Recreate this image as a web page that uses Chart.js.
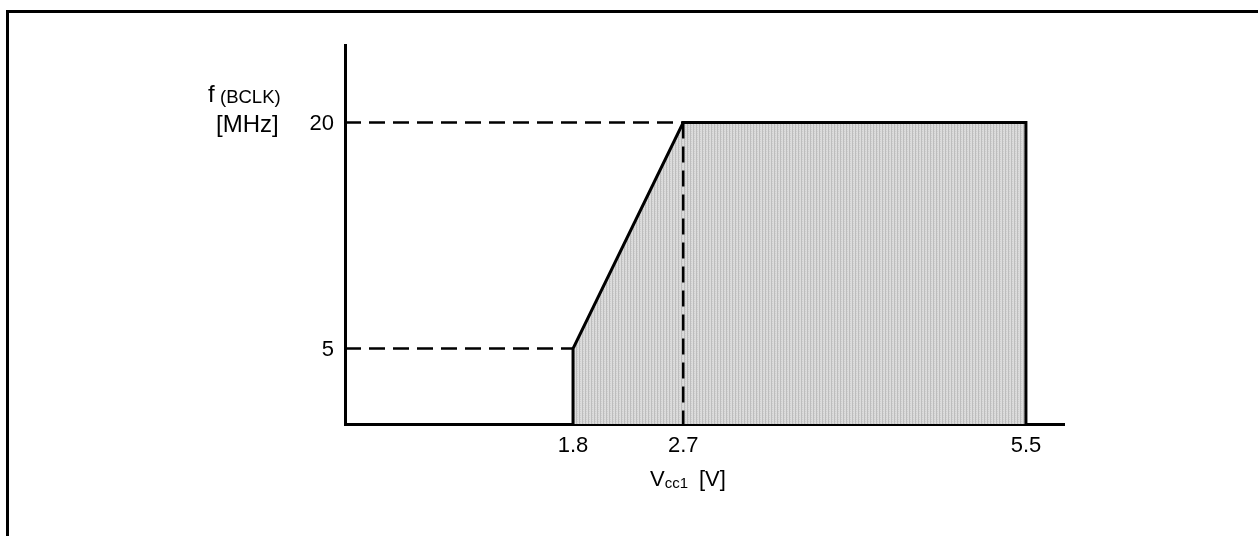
<!DOCTYPE html>
<html>
<head>
<meta charset="utf-8">
<script src="https://cdn.jsdelivr.net/npm/chart.js"></script>
<style>
html,body{margin:0;padding:0;background:#fff;}
#wrap{position:relative;width:1258px;height:536px;overflow:hidden;}
#c{position:absolute;left:0;top:0;}
svg{position:absolute;left:0;top:0;pointer-events:none;}
</style>
</head>
<body>
<div id="wrap">
<canvas id="c" width="1258" height="536"></canvas>
<svg width="1258" height="536" font-family="'Liberation Sans', Arial, sans-serif" fill="#000">
  <path d="M7.5 536 V11.5 H1258" fill="none" stroke="#000" stroke-width="3"/>
  <text x="208" y="102" font-size="24">f</text>
  <text x="220" y="103" font-size="18.5">(BCLK)</text>
  <text x="216" y="132" font-size="24">[MHz]</text>
  <text y="486" font-size="22"><tspan x="650">V</tspan><tspan font-size="15" dy="2">cc1</tspan><tspan x="699" dy="-2">[V]</tspan></text>
</svg>
</div>
<script>
// ---- data ----
const xTickValues = [1.8, 2.7, 5.5];
const yTickValues = [5, 20];
const regionVcc = [1.8, 1.8, 2.7, 5.5, 5.5];
const regionFreq = [0, 5, 20, 20, 0];
const xRange = [-0.063, 5.811];
const yRange = [0, 25.14];
const guide5Vcc = [xRange[0], 1.8];
const guide5Freq = [5, 5];
const guide20Vcc = [xRange[0], 2.7];
const guide20Freq = [20, 20];
const guide27Vcc = [2.7, 2.7];
const guide27Freq = [20, 0];

const toPts = (xs, ys) => xs.map((x, i) => ({x: x, y: ys[i]}));

const canvas = document.getElementById('c');
const ctx = canvas.getContext('2d');

// stipple fill pattern
const pc = document.createElement('canvas');
pc.width = 3; pc.height = 2;
const pg = pc.getContext('2d');
pg.fillStyle = '#dcdcdc'; pg.fillRect(0, 0, 3, 2);
pg.fillStyle = '#bdbdbd'; pg.fillRect(0, 0, 1, 2);
pg.fillStyle = '#cfcfcf'; pg.fillRect(1, 1, 1, 1);
const pattern = ctx.createPattern(pc, 'repeat');

const dashed = (xs, ys) => ({
  data: toPts(xs, ys),
  showLine: true,
  borderColor: '#000',
  borderWidth: 2.5,
  borderDash: [16, 8],
  pointRadius: 0,
  fill: false,
  order: 0
});

const font = {family: "'Liberation Sans', Arial, sans-serif", size: 22};

new Chart(ctx, {
  type: 'scatter',
  data: {
    datasets: [
      dashed(guide20Vcc, guide20Freq),
      dashed(guide5Vcc, guide5Freq),
      dashed(guide27Vcc, guide27Freq),
      {
        data: toPts(regionVcc, regionFreq),
        showLine: true,
        borderColor: '#000',
        borderWidth: 3,
        borderJoinStyle: 'miter',
        backgroundColor: pattern,
        fill: 'origin',
        pointRadius: 0,
        tension: 0,
        order: 10
      }
    ]
  },
  options: {
    responsive: false,
    animation: false,
    events: [],
    layout: {padding: {left: 0, right: 194, top: 45, bottom: 0}},
    plugins: {legend: {display: false}, tooltip: {enabled: false}},
    scales: {
      x: {
        type: 'linear',
        min: xRange[0],
        max: xRange[1],
        afterBuildTicks: s => { s.ticks = xTickValues.map(v => ({value: v})); },
        afterFit: s => { s.height = 112; },
        grid: {display: false, drawTicks: false},
        border: {display: true, color: '#000', width: 3},
        ticks: {
          color: '#000', font: font, padding: 9,
          autoSkip: false, maxRotation: 0,
          callback: v => xTickValues.includes(v) ? v.toFixed(1) : ''
        }
      },
      y: {
        type: 'linear',
        min: yRange[0],
        max: yRange[1],
        afterBuildTicks: s => { s.ticks = yTickValues.map(v => ({value: v})); },
        afterFit: s => { s.width = 345; },
        grid: {display: false, drawTicks: false},
        border: {display: true, color: '#000', width: 3},
        ticks: {
          color: '#000', font: font, padding: 11,
          autoSkip: false, labelOffset: 1.5,
          callback: v => String(v)
        }
      }
    }
  }
});
</script>
</body>
</html>
